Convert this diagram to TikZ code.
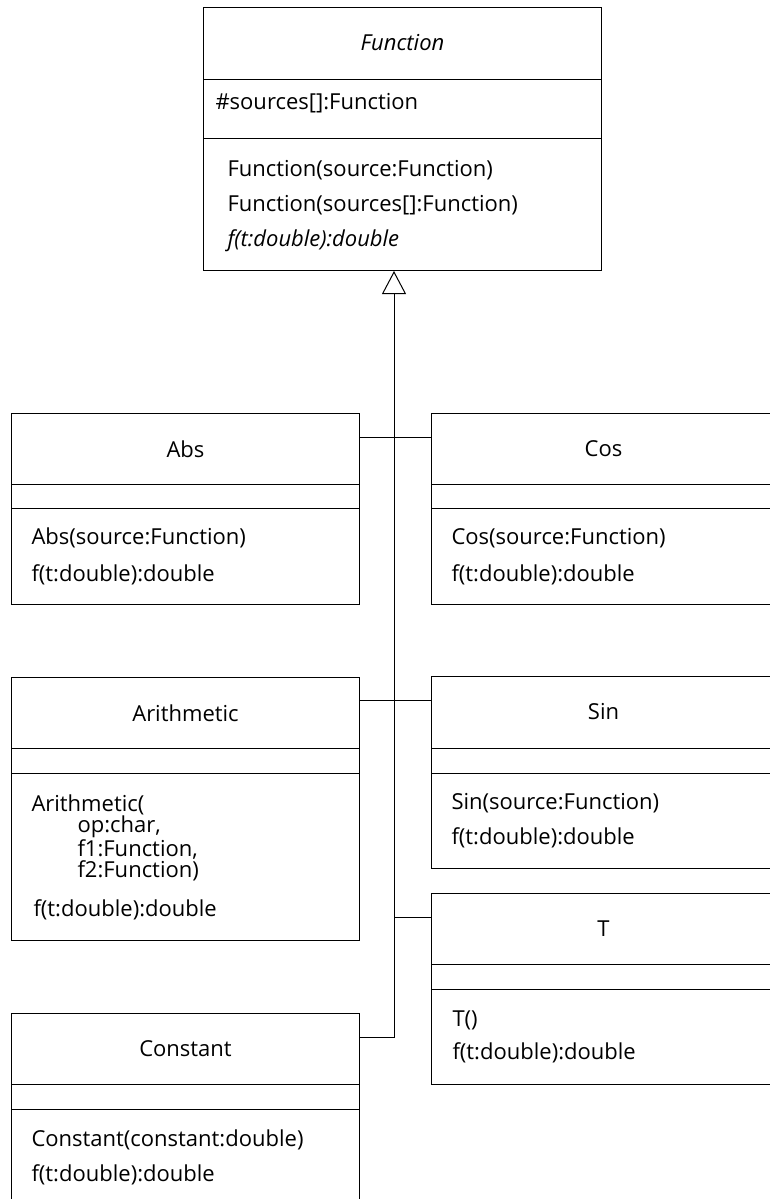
\documentclass[tikz,border=0pt]{standalone}
\usepackage{fontspec}
\setmainfont{Open Sans}
\usetikzlibrary{arrows.meta}

\newcommand{\umlfont}{\fontsize{22}{26}\selectfont}
% class box: name, left, top, width, height, first line, second line
\newcommand{\umlclass}[7]{%
  \node[classbox, minimum width=#4pt, minimum height=#5pt] (#1) at (#2,#3) {};
  \draw ([yshift=-#6pt]#1.north west) -- ([yshift=-#6pt]#1.north east)
        ([yshift=-#7pt]#1.north west) -- ([yshift=-#7pt]#1.north east);
}

\begin{document}
\begin{tikzpicture}[x=1pt, y=-1pt, line width=1pt,
    classbox/.style={draw, rectangle, anchor=north west, inner sep=0pt},
    classname/.style={inner sep=0pt, font=\umlfont},
    member/.style={anchor=west, inner sep=0pt, font=\umlfont},
    inherit/.style={-{Triangle[open, length=23pt, width=24pt]}}]
    \useasboundingbox (0,0) rectangle (770,1199);
    \clip (0,0) rectangle (770,1199);

    % Abstract base class
    \umlclass{fn}{203}{7}{398}{263}{72}{131}
    \node[classname] (fnname) at ([yshift=-36pt]fn.north) {\itshape Function};
    \node[member] (fnsrc) at (215,103) {\#sources[]:Function};
    \node[member] (fnctor) at (227,170) {Function(source:Function)};
    \node[member] (fnctors) at (227,205) {Function(sources[]:Function)};
    \node[member] (fnf) at (227,241) {\itshape f(t:double):double};

    % Subclasses, left column
    \umlclass{abs}{11}{413}{348}{191}{71}{95}
    \node[classname] (absname) at ([yshift=-36pt]abs.north) {Abs};
    \node[member] (absctor) at (31,538) {Abs(source:Function)};
    \node[member] (absf) at (31,575) {f(t:double):double};

    \umlclass{arith}{11}{677}{348}{263}{71}{96}
    \node[classname] (arithname) at ([yshift=-36pt]arith.north) {Arithmetic};
    \node[member] (arithctor) at (31,805) {Arithmetic(};
    \node[member] (arithop) at (77,827) {op:char,};
    \node[member] (arithfa) at (77,849) {f1:Function,};
    \node[member] (arithfb) at (77,871) {f2:Function)};
    \node[member] (arithf) at (33,910) {f(t:double):double};

    \umlclass{const}{11}{1013}{348}{220}{71}{96}
    \node[classname] (constname) at ([yshift=-36pt]const.north) {Constant};
    \node[member] (constctor) at (31,1140) {Constant(constant:double)};
    \node[member] (constf) at (31,1175) {f(t:double):double};

    % Subclasses, right column
    \umlclass{cos}{431}{413}{344}{191}{71}{95}
    \node[classname] (cosname) at ([yshift=-36pt]cos.north) {Cos};
    \node[member] (cosctor) at (451,538) {Cos(source:Function)};
    \node[member] (cosf) at (451,575) {f(t:double):double};

    \umlclass{sin}{431}{676}{344}{192}{72}{97}
    \node[classname] (sinname) at ([yshift=-36pt]sin.north) {Sin};
    \node[member] (sinctor) at (451,803) {Sin(source:Function)};
    \node[member] (sinf) at (451,838) {f(t:double):double};

    \umlclass{t}{431}{893}{344}{191}{71}{96}
    \node[classname] (tname) at ([yshift=-36pt]t.north) {T};
    \node[member] (tctor) at (452,1020) {T()};
    \node[member] (tf) at (452,1053) {f(t:double):double};

    % Generalization tree
    \coordinate (trunkend) at (394,1037);
    \coordinate (jabs) at (394,437);
    \coordinate (jarith) at (394,700);
    \coordinate (jt) at (394,917);
    \draw[inherit] (const.north east |- trunkend) -- (trunkend) -- (trunkend |- fn.south);
    \draw (abs.north east |- jabs) -- (cos.north west |- jabs);
    \draw (arith.north east |- jarith) -- (sin.north west |- jarith);
    \draw (jt) -- (t.north west |- jt);
\end{tikzpicture}
\end{document}
